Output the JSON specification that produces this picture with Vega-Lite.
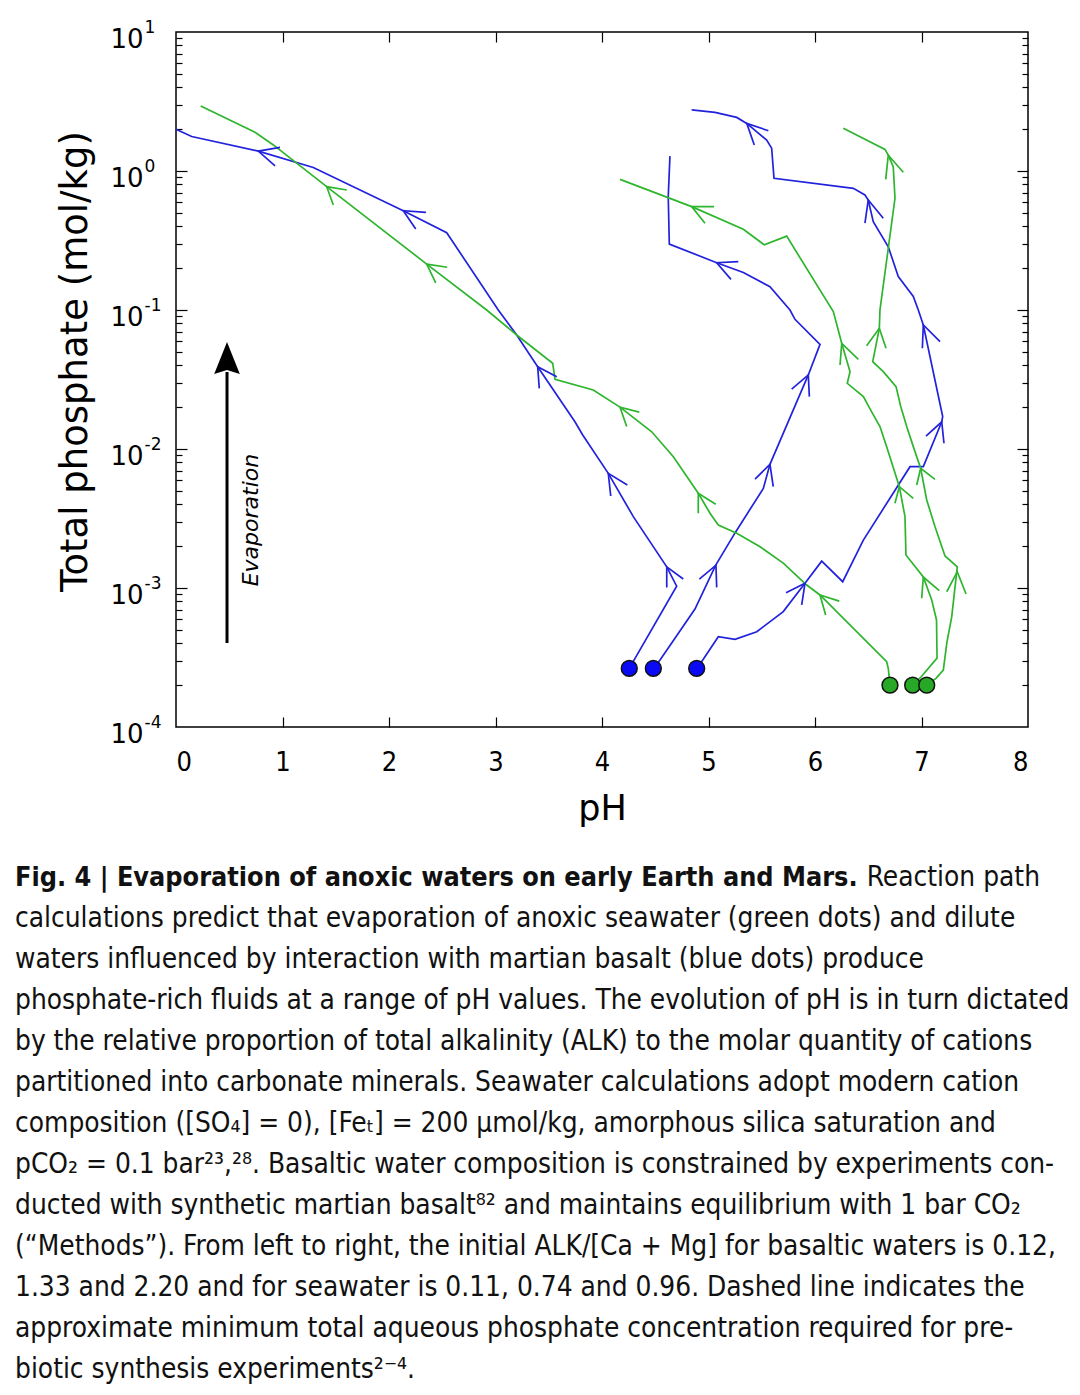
{
  "$schema": "https://vega.github.io/schema/vega-lite/v6.json",
  "width": 852,
  "height": 695,
  "autosize": {"type": "none"},
  "padding": {"left": 176, "top": 32, "right": 52, "bottom": 668},
  "background": "white",
  "config": {
    "view": {"stroke": "#000", "strokeWidth": 1.5},
    "axis": {"domain": false, "grid": false, "tickColor": "#000", "tickWidth": 1.2, "labelColor": "#000", "titleColor": "#000"}
  },
  "datasets": {
    "paths": [
      {"s":"b1","k":"basalt","o":1,"ph":4.256,"p":0.000264},
      {"s":"b1","k":"basalt","o":2,"ph":4.701,"p":0.00103},
      {"s":"b1","k":"basalt","o":3,"ph":4.608,"p":0.00142},
      {"s":"b1","k":"basalt","o":4,"ph":4.294,"p":0.00326},
      {"s":"b1","k":"basalt","o":5,"ph":4.059,"p":0.00668},
      {"s":"b1","k":"basalt","o":6,"ph":3.819,"p":0.0126},
      {"s":"b1","k":"basalt","o":7,"ph":3.746,"p":0.0157},
      {"s":"b1","k":"basalt","o":8,"ph":3.396,"p":0.0391},
      {"s":"b1","k":"basalt","o":9,"ph":3.199,"p":0.0661},
      {"s":"b1","k":"basalt","o":10,"ph":3.026,"p":0.1},
      {"s":"b1","k":"basalt","o":11,"ph":2.542,"p":0.36},
      {"s":"b1","k":"basalt","o":12,"ph":2.134,"p":0.518},
      {"s":"b1","k":"basalt","o":13,"ph":1.289,"p":1.06},
      {"s":"b1","k":"basalt","o":14,"ph":0.773,"p":1.39},
      {"s":"b1","k":"basalt","o":15,"ph":0.147,"p":1.77},
      {"s":"b1","k":"basalt","o":16,"ph":0.0,"p":2.0},

      {"s":"b2","k":"basalt","o":1,"ph":4.482,"p":0.000264},
      {"s":"b2","k":"basalt","o":2,"ph":4.545,"p":0.000303},
      {"s":"b2","k":"basalt","o":3,"ph":4.873,"p":0.000706},
      {"s":"b2","k":"basalt","o":4,"ph":5.068,"p":0.00146},
      {"s":"b2","k":"basalt","o":5,"ph":5.249,"p":0.00249},
      {"s":"b2","k":"basalt","o":6,"ph":5.515,"p":0.00521},
      {"s":"b2","k":"basalt","o":7,"ph":5.577,"p":0.00776},
      {"s":"b2","k":"basalt","o":8,"ph":5.937,"p":0.0341},
      {"s":"b2","k":"basalt","o":9,"ph":6.047,"p":0.0566},
      {"s":"b2","k":"basalt","o":10,"ph":5.812,"p":0.0857},
      {"s":"b2","k":"basalt","o":11,"ph":5.765,"p":0.1},
      {"s":"b2","k":"basalt","o":12,"ph":5.577,"p":0.147},
      {"s":"b2","k":"basalt","o":13,"ph":5.327,"p":0.186},
      {"s":"b2","k":"basalt","o":14,"ph":5.077,"p":0.219},
      {"s":"b2","k":"basalt","o":15,"ph":4.632,"p":0.298},
      {"s":"b2","k":"basalt","o":16,"ph":4.622,"p":0.653},
      {"s":"b2","k":"basalt","o":17,"ph":4.638,"p":1.28},

      {"s":"b3","k":"basalt","o":1,"ph":4.889,"p":0.000264},
      {"s":"b3","k":"basalt","o":2,"ph":4.951,"p":0.000307},
      {"s":"b3","k":"basalt","o":3,"ph":5.092,"p":0.000446},
      {"s":"b3","k":"basalt","o":4,"ph":5.249,"p":0.000427},
      {"s":"b3","k":"basalt","o":5,"ph":5.453,"p":0.000485},
      {"s":"b3","k":"basalt","o":6,"ph":5.702,"p":0.000676},
      {"s":"b3","k":"basalt","o":7,"ph":5.906,"p":0.00108},
      {"s":"b3","k":"basalt","o":8,"ph":6.063,"p":0.00156},
      {"s":"b3","k":"basalt","o":9,"ph":6.26,"p":0.00111},
      {"s":"b3","k":"basalt","o":10,"ph":6.454,"p":0.00221},
      {"s":"b3","k":"basalt","o":11,"ph":6.892,"p":0.00746},
      {"s":"b3","k":"basalt","o":12,"ph":7.017,"p":0.00746},
      {"s":"b3","k":"basalt","o":13,"ph":7.19,"p":0.0157},
      {"s":"b3","k":"basalt","o":14,"ph":7.199,"p":0.0171},
      {"s":"b3","k":"basalt","o":15,"ph":7.017,"p":0.078},
      {"s":"b3","k":"basalt","o":16,"ph":6.97,"p":0.1},
      {"s":"b3","k":"basalt","o":17,"ph":6.923,"p":0.125},
      {"s":"b3","k":"basalt","o":18,"ph":6.782,"p":0.174},
      {"s":"b3","k":"basalt","o":19,"ph":6.688,"p":0.285},
      {"s":"b3","k":"basalt","o":20,"ph":6.547,"p":0.432},
      {"s":"b3","k":"basalt","o":21,"ph":6.5,"p":0.618},
      {"s":"b3","k":"basalt","o":22,"ph":6.469,"p":0.672},
      {"s":"b3","k":"basalt","o":23,"ph":6.36,"p":0.751},
      {"s":"b3","k":"basalt","o":24,"ph":5.615,"p":0.886},
      {"s":"b3","k":"basalt","o":25,"ph":5.593,"p":1.46},
      {"s":"b3","k":"basalt","o":26,"ph":5.546,"p":1.67},
      {"s":"b3","k":"basalt","o":27,"ph":5.359,"p":2.2},
      {"s":"b3","k":"basalt","o":28,"ph":5.265,"p":2.43},
      {"s":"b3","k":"basalt","o":29,"ph":5.061,"p":2.64},
      {"s":"b3","k":"basalt","o":30,"ph":4.842,"p":2.75},

      {"s":"g1","k":"seawater","o":1,"ph":6.704,"p":0.0002},
      {"s":"g1","k":"seawater","o":2,"ph":6.688,"p":0.000264},
      {"s":"g1","k":"seawater","o":3,"ph":6.673,"p":0.000295},
      {"s":"g1","k":"seawater","o":4,"ph":6.047,"p":0.000891},
      {"s":"g1","k":"seawater","o":5,"ph":5.922,"p":0.00105},
      {"s":"g1","k":"seawater","o":6,"ph":5.702,"p":0.00151},
      {"s":"g1","k":"seawater","o":7,"ph":5.484,"p":0.00198},
      {"s":"g1","k":"seawater","o":8,"ph":5.265,"p":0.00248},
      {"s":"g1","k":"seawater","o":9,"ph":5.092,"p":0.00284},
      {"s":"g1","k":"seawater","o":10,"ph":5.014,"p":0.00345},
      {"s":"g1","k":"seawater","o":11,"ph":4.904,"p":0.0048},
      {"s":"g1","k":"seawater","o":12,"ph":4.67,"p":0.00881},
      {"s":"g1","k":"seawater","o":13,"ph":4.467,"p":0.0133},
      {"s":"g1","k":"seawater","o":14,"ph":4.169,"p":0.02},
      {"s":"g1","k":"seawater","o":15,"ph":3.918,"p":0.0266},
      {"s":"g1","k":"seawater","o":16,"ph":3.559,"p":0.0317},
      {"s":"g1","k":"seawater","o":17,"ph":3.537,"p":0.0414},
      {"s":"g1","k":"seawater","o":18,"ph":3.199,"p":0.0661},
      {"s":"g1","k":"seawater","o":19,"ph":2.917,"p":0.1},
      {"s":"g1","k":"seawater","o":20,"ph":2.354,"p":0.214},
      {"s":"g1","k":"seawater","o":21,"ph":1.415,"p":0.771},
      {"s":"g1","k":"seawater","o":22,"ph":0.914,"p":1.54},
      {"s":"g1","k":"seawater","o":23,"ph":0.742,"p":1.9},
      {"s":"g1","k":"seawater","o":24,"ph":0.232,"p":2.94},

      {"s":"g2","k":"seawater","o":1,"ph":6.917,"p":0.0002},
      {"s":"g2","k":"seawater","o":2,"ph":6.995,"p":0.000229},
      {"s":"g2","k":"seawater","o":3,"ph":7.146,"p":0.000313},
      {"s":"g2","k":"seawater","o":4,"ph":7.141,"p":0.000589},
      {"s":"g2","k":"seawater","o":5,"ph":7.096,"p":0.00082},
      {"s":"g2","k":"seawater","o":6,"ph":7.017,"p":0.0012},
      {"s":"g2","k":"seawater","o":7,"ph":6.854,"p":0.00173},
      {"s":"g2","k":"seawater","o":8,"ph":6.845,"p":0.00326},
      {"s":"g2","k":"seawater","o":9,"ph":6.792,"p":0.00536},
      {"s":"g2","k":"seawater","o":10,"ph":6.673,"p":0.0104},
      {"s":"g2","k":"seawater","o":11,"ph":6.61,"p":0.0145},
      {"s":"g2","k":"seawater","o":12,"ph":6.532,"p":0.0185},
      {"s":"g2","k":"seawater","o":13,"ph":6.454,"p":0.0238},
      {"s":"g2","k":"seawater","o":14,"ph":6.303,"p":0.0297},
      {"s":"g2","k":"seawater","o":15,"ph":6.329,"p":0.036},
      {"s":"g2","k":"seawater","o":16,"ph":6.251,"p":0.0576},
      {"s":"g2","k":"seawater","o":17,"ph":6.172,"p":0.0973},
      {"s":"g2","k":"seawater","o":18,"ph":5.734,"p":0.34},
      {"s":"g2","k":"seawater","o":19,"ph":5.524,"p":0.294},
      {"s":"g2","k":"seawater","o":20,"ph":5.327,"p":0.381},
      {"s":"g2","k":"seawater","o":21,"ph":4.842,"p":0.554},
      {"s":"g2","k":"seawater","o":22,"ph":4.169,"p":0.871},

      {"s":"g3","k":"seawater","o":1,"ph":7.049,"p":0.0002},
      {"s":"g3","k":"seawater","o":2,"ph":7.136,"p":0.000224},
      {"s":"g3","k":"seawater","o":3,"ph":7.205,"p":0.000257},
      {"s":"g3","k":"seawater","o":4,"ph":7.237,"p":0.0004},
      {"s":"g3","k":"seawater","o":5,"ph":7.284,"p":0.000622},
      {"s":"g3","k":"seawater","o":6,"ph":7.336,"p":0.00142},
      {"s":"g3","k":"seawater","o":7,"ph":7.221,"p":0.0017},
      {"s":"g3","k":"seawater","o":8,"ph":7.127,"p":0.00276},
      {"s":"g3","k":"seawater","o":9,"ph":7.049,"p":0.0043},
      {"s":"g3","k":"seawater","o":10,"ph":6.992,"p":0.00726},
      {"s":"g3","k":"seawater","o":11,"ph":6.923,"p":0.0104},
      {"s":"g3","k":"seawater","o":12,"ph":6.861,"p":0.0145},
      {"s":"g3","k":"seawater","o":13,"ph":6.805,"p":0.0202},
      {"s":"g3","k":"seawater","o":14,"ph":6.761,"p":0.0281},
      {"s":"g3","k":"seawater","o":15,"ph":6.641,"p":0.036},
      {"s":"g3","k":"seawater","o":16,"ph":6.542,"p":0.0425},
      {"s":"g3","k":"seawater","o":17,"ph":6.604,"p":0.0738},
      {"s":"g3","k":"seawater","o":18,"ph":6.61,"p":0.1},
      {"s":"g3","k":"seawater","o":19,"ph":6.751,"p":0.636},
      {"s":"g3","k":"seawater","o":20,"ph":6.735,"p":1.07},
      {"s":"g3","k":"seawater","o":21,"ph":6.688,"p":1.3},
      {"s":"g3","k":"seawater","o":22,"ph":6.657,"p":1.43},
      {"s":"g3","k":"seawater","o":23,"ph":6.266,"p":2.03}
    ],
    "arrows": [
      {"a":"A1","k":"basalt","o":1,"ph":0.977,"p":1.48},{"a":"A1","k":"basalt","o":2,"ph":0.773,"p":1.39},{"a":"A1","k":"basalt","o":3,"ph":0.93,"p":1.09},
      {"a":"A2","k":"basalt","o":1,"ph":2.347,"p":0.504},{"a":"A2","k":"basalt","o":2,"ph":2.134,"p":0.518},{"a":"A2","k":"basalt","o":3,"ph":2.251,"p":0.383},
      {"a":"A3","k":"basalt","o":1,"ph":3.575,"p":0.0331},{"a":"A3","k":"basalt","o":2,"ph":3.396,"p":0.0391},{"a":"A3","k":"basalt","o":3,"ph":3.411,"p":0.0273},
      {"a":"A4","k":"basalt","o":1,"ph":4.238,"p":0.00551},{"a":"A4","k":"basalt","o":2,"ph":4.059,"p":0.00668},{"a":"A4","k":"basalt","o":3,"ph":4.082,"p":0.00459},
      {"a":"A5","k":"basalt","o":1,"ph":4.763,"p":0.00116},{"a":"A5","k":"basalt","o":2,"ph":4.608,"p":0.00142},{"a":"A5","k":"basalt","o":3,"ph":4.608,"p":0.00101},
      {"a":"B1","k":"basalt","o":1,"ph":4.914,"p":0.00116},{"a":"B1","k":"basalt","o":2,"ph":5.07,"p":0.00146},{"a":"B1","k":"basalt","o":3,"ph":5.077,"p":0.00101},
      {"a":"B2","k":"basalt","o":1,"ph":5.437,"p":0.00608},{"a":"B2","k":"basalt","o":2,"ph":5.577,"p":0.00776},{"a":"B2","k":"basalt","o":3,"ph":5.608,"p":0.00536},
      {"a":"B3","k":"basalt","o":1,"ph":5.781,"p":0.027},{"a":"B3","k":"basalt","o":2,"ph":5.937,"p":0.0341},{"a":"B3","k":"basalt","o":3,"ph":5.947,"p":0.0238},
      {"a":"B4","k":"basalt","o":1,"ph":5.28,"p":0.223},{"a":"B4","k":"basalt","o":2,"ph":5.077,"p":0.219},{"a":"B4","k":"basalt","o":3,"ph":5.211,"p":0.166},
      {"a":"C1","k":"basalt","o":1,"ph":5.728,"p":0.000925},{"a":"C1","k":"basalt","o":2,"ph":5.906,"p":0.00108},{"a":"C1","k":"basalt","o":3,"ph":5.875,"p":0.000755},
      {"a":"C2","k":"basalt","o":1,"ph":7.042,"p":0.0124},{"a":"C2","k":"basalt","o":2,"ph":7.19,"p":0.0157},{"a":"C2","k":"basalt","o":3,"ph":7.211,"p":0.011},
      {"a":"C3","k":"basalt","o":1,"ph":7.008,"p":0.053},{"a":"C3","k":"basalt","o":2,"ph":7.017,"p":0.078},{"a":"C3","k":"basalt","o":3,"ph":7.174,"p":0.0592},
      {"a":"C4","k":"basalt","o":1,"ph":6.469,"p":0.421},{"a":"C4","k":"basalt","o":2,"ph":6.5,"p":0.618},{"a":"C4","k":"basalt","o":3,"ph":6.641,"p":0.457},
      {"a":"C5","k":"basalt","o":1,"ph":5.562,"p":1.95},{"a":"C5","k":"basalt","o":2,"ph":5.359,"p":2.2},{"a":"C5","k":"basalt","o":3,"ph":5.43,"p":1.54},
      {"a":"D1","k":"seawater","o":1,"ph":6.228,"p":0.000805},{"a":"D1","k":"seawater","o":2,"ph":6.047,"p":0.000891},{"a":"D1","k":"seawater","o":3,"ph":6.1,"p":0.00064},
      {"a":"D2","k":"seawater","o":1,"ph":5.068,"p":0.004},{"a":"D2","k":"seawater","o":2,"ph":4.904,"p":0.0048},{"a":"D2","k":"seawater","o":3,"ph":4.904,"p":0.00345},
      {"a":"D3","k":"seawater","o":1,"ph":4.35,"p":0.0184},{"a":"D3","k":"seawater","o":2,"ph":4.169,"p":0.02},{"a":"D3","k":"seawater","o":3,"ph":4.232,"p":0.0145},
      {"a":"D4","k":"seawater","o":1,"ph":2.547,"p":0.203},{"a":"D4","k":"seawater","o":2,"ph":2.354,"p":0.214},{"a":"D4","k":"seawater","o":3,"ph":2.439,"p":0.157},
      {"a":"D5","k":"seawater","o":1,"ph":1.603,"p":0.73},{"a":"D5","k":"seawater","o":2,"ph":1.415,"p":0.771},{"a":"D5","k":"seawater","o":3,"ph":1.477,"p":0.569},
      {"a":"E1","k":"seawater","o":1,"ph":7.002,"p":0.000843},{"a":"E1","k":"seawater","o":2,"ph":7.017,"p":0.0012},{"a":"E1","k":"seawater","o":3,"ph":7.167,"p":0.000957},
      {"a":"E2","k":"seawater","o":1,"ph":6.751,"p":0.00407},{"a":"E2","k":"seawater","o":2,"ph":6.792,"p":0.00536},{"a":"E2","k":"seawater","o":3,"ph":6.923,"p":0.00442},
      {"a":"E3","k":"seawater","o":1,"ph":6.235,"p":0.0402},{"a":"E3","k":"seawater","o":2,"ph":6.251,"p":0.0576},{"a":"E3","k":"seawater","o":3,"ph":6.407,"p":0.0442},
      {"a":"E4","k":"seawater","o":1,"ph":5.052,"p":0.554},{"a":"E4","k":"seawater","o":2,"ph":4.842,"p":0.554},{"a":"E4","k":"seawater","o":3,"ph":4.967,"p":0.421},
      {"a":"F1","k":"seawater","o":1,"ph":7.237,"p":0.00094},{"a":"F1","k":"seawater","o":2,"ph":7.336,"p":0.00131},{"a":"F1","k":"seawater","o":3,"ph":7.418,"p":0.000906},
      {"a":"F2","k":"seawater","o":1,"ph":6.955,"p":0.00551},{"a":"F2","k":"seawater","o":2,"ph":6.992,"p":0.00726},{"a":"F2","k":"seawater","o":3,"ph":7.127,"p":0.00605},
      {"a":"F3","k":"seawater","o":1,"ph":6.485,"p":0.0554},{"a":"F3","k":"seawater","o":2,"ph":6.604,"p":0.0738},{"a":"F3","k":"seawater","o":3,"ph":6.667,"p":0.053},
      {"a":"F4","k":"seawater","o":1,"ph":6.664,"p":0.871},{"a":"F4","k":"seawater","o":2,"ph":6.688,"p":1.3},{"a":"F4","k":"seawater","o":3,"ph":6.829,"p":0.979}
    ],
    "dots": [
      {"k":"basalt","ph":4.256,"p":0.000264},
      {"k":"basalt","ph":4.482,"p":0.000264},
      {"k":"basalt","ph":4.889,"p":0.000264},
      {"k":"seawater","ph":6.704,"p":0.0002},
      {"k":"seawater","ph":6.917,"p":0.0002},
      {"k":"seawater","ph":7.049,"p":0.0002}
    ],
    "evap": [
      {"ph":0.479,"p1":0.000402,"p2":0.0358,"ptip":0.0451,"ptext":0.00308,"phtext":0.704,"t":"Evaporation"}
    ],
    "caption": [
      {"line":1,"seg":"b","t":"Fig. 4 | Evaporation of anoxic waters on early Earth and Mars."},
      {"line":1,"seg":"r","t":"Reaction path"},
      {"line":2,"seg":"n","t":"calculations predict that evaporation of anoxic seawater (green dots) and dilute"},
      {"line":3,"seg":"n","t":"waters influenced by interaction with martian basalt (blue dots) produce"},
      {"line":4,"seg":"n","t":"phosphate-rich fluids at a range of pH values. The evolution of pH is in turn dictated"},
      {"line":5,"seg":"n","t":"by the relative proportion of total alkalinity (ALK) to the molar quantity of cations"},
      {"line":6,"seg":"n","t":"partitioned into carbonate minerals. Seawater calculations adopt modern cation"},
      {"line":7,"seg":"n","t":"composition ([SO₄] = 0), [Feₜ] = 200 µmol/kg, amorphous silica saturation and"},
      {"line":8,"seg":"n","t":"pCO₂ = 0.1 bar²³,²⁸. Basaltic water composition is constrained by experiments con-"},
      {"line":9,"seg":"n","t":"ducted with synthetic martian basalt⁸² and maintains equilibrium with 1 bar CO₂"},
      {"line":10,"seg":"n","t":"(“Methods”). From left to right, the initial ALK/[Ca + Mg] for basaltic waters is 0.12,"},
      {"line":11,"seg":"n","t":"1.33 and 2.20 and for seawater is 0.11, 0.74 and 0.96. Dashed line indicates the"},
      {"line":12,"seg":"n","t":"approximate minimum total aqueous phosphate concentration required for pre-"},
      {"line":13,"seg":"n","t":"biotic synthesis experiments²⁻⁴."}
    ]
  },
  "resolve": {"scale": {"x": "independent", "y": "independent"}},
  "layer": [
    {
      "resolve": {"axis": {"x": "independent", "y": "independent"}},
      "layer": [
        {
          "mark": {"type": "rule", "strokeDash": [15, 11], "strokeWidth": 2, "color": "#1a1a1a"},
          "encoding": {
            "y": {"datum": 0.1, "type": "quantitative", "scale": {"type": "log", "domain": [0.0001, 10], "nice": false}, "axis": null}
          }
        },
        {
          "data": {"name": "paths"},
          "mark": {"type": "line", "strokeWidth": 1.7, "interpolate": "linear"},
          "encoding": {
            "x": {"field": "ph", "type": "quantitative", "scale": {"domain": [0, 8], "nice": false, "zero": false},
                  "axis": {"orient": "bottom", "ticks": false, "values": [0,1,2,3,4,5,6,7,8], "labelFont": "DejaVu Sans Condensed, Liberation Sans", "labelFontSize": 27, "labelPadding": 22,
                           "title": "pH", "titleFont": "DejaVu Sans", "titleFontSize": 35, "titleFontWeight": "normal", "titleY": 81, "titleBaseline": "middle"}},
            "y": {"field": "p", "type": "quantitative", "scale": {"type": "log", "domain": [0.0001, 10], "nice": false},
                  "axis": {"orient": "left", "ticks": false, "values": [0.0001, 0.001, 0.01, 0.1, 1, 10],
                           "labelExpr": "'10'",
                           "labelFont": "DejaVu Sans", "labelFontSize": 26, "labelPadding": 33, "labelOffset": 7,
                           "title": "Total phosphate (mol/kg)", "titleFont": "DejaVu Sans", "titleFontSize": 37, "titleFontWeight": "normal",
                           "titleX": -101, "titleY": 329, "titleBaseline": "middle", "titleAngle": 270}},
            "detail": {"field": "s"},
            "order": {"field": "o", "type": "quantitative"},
            "stroke": {"field": "k", "type": "nominal", "scale": {"domain": ["basalt", "seawater"], "range": ["#2222dd", "#2eb52e"]}, "legend": null}
          }
        },
        {
          "data": {"name": "arrows"},
          "mark": {"type": "line", "strokeWidth": 1.7},
          "encoding": {
            "x": {"field": "ph", "type": "quantitative", "scale": {"domain": [0, 8], "nice": false, "zero": false},
                  "axis": {"orient": "bottom", "labels": false, "title": null, "values": [1,2,3,4,5,6,7], "tickSize": -10}},
            "y": {"field": "p", "type": "quantitative", "scale": {"type": "log", "domain": [0.0001, 10], "nice": false},
                  "axis": {"orient": "left", "labels": false, "title": null, "values": [0.001, 0.01, 0.1, 1], "tickSize": -11}},
            "detail": {"field": "a"},
            "order": {"field": "o", "type": "quantitative"},
            "stroke": {"field": "k", "type": "nominal", "scale": {"domain": ["basalt", "seawater"], "range": ["#2222dd", "#2eb52e"]}, "legend": null}
          }
        },
        {
          "data": {"name": "dots"},
          "mark": {"type": "point", "filled": true, "size": 250, "stroke": "#111", "strokeWidth": 1.5, "opacity": 1},
          "encoding": {
            "x": {"field": "ph", "type": "quantitative", "scale": {"domain": [0, 8], "nice": false, "zero": false},
                  "axis": {"orient": "top", "labels": false, "title": null, "values": [1,2,3,4,5,6,7], "tickSize": -10}},
            "y": {"field": "p", "type": "quantitative", "scale": {"type": "log", "domain": [0.0001, 10], "nice": false},
                  "axis": {"orient": "left", "labels": false, "title": null, "tickSize": -6,
                           "values": [0.0002,0.0003,0.0004,0.0005,0.0006,0.0007,0.0008,0.0009,0.002,0.003,0.004,0.005,0.006,0.007,0.008,0.009,0.02,0.03,0.04,0.05,0.06,0.07,0.08,0.09,0.2,0.3,0.4,0.5,0.6,0.7,0.8,0.9,2,3,4,5,6,7,8,9]}},
            "fill": {"field": "k", "type": "nominal", "scale": {"domain": ["basalt", "seawater"], "range": ["#0a0af5", "#27a827"]}, "legend": null}
          }
        },
        {
          "data": {"name": "evap"},
          "mark": {"type": "rule", "strokeWidth": 3, "color": "#000"},
          "encoding": {
            "x": {"field": "ph", "type": "quantitative", "scale": {"domain": [0, 8], "nice": false, "zero": false}, "axis": null},
            "y": {"field": "p1", "type": "quantitative", "scale": {"type": "log", "domain": [0.0001, 10], "nice": false},
                  "axis": {"orient": "right", "labels": false, "title": null, "values": [0.001, 0.01, 0.1, 1], "tickSize": -11}},
            "y2": {"field": "p2"}
          }
        },
        {
          "data": {"name": "evap"},
          "mark": {"type": "point", "shape": "M0,-1L0.8,1L0,0.75L-0.8,1Z", "filled": true, "size": 1024, "color": "#000", "opacity": 1},
          "encoding": {
            "x": {"field": "ph", "type": "quantitative", "scale": {"domain": [0, 8], "nice": false, "zero": false}, "axis": null},
            "y": {"field": "ptip", "type": "quantitative", "scale": {"type": "log", "domain": [0.0001, 10], "nice": false},
                  "axis": {"orient": "right", "labels": false, "title": null, "tickSize": -6,
                           "values": [0.0002,0.0003,0.0004,0.0005,0.0006,0.0007,0.0008,0.0009,0.002,0.003,0.004,0.005,0.006,0.007,0.008,0.009,0.02,0.03,0.04,0.05,0.06,0.07,0.08,0.09,0.2,0.3,0.4,0.5,0.6,0.7,0.8,0.9,2,3,4,5,6,7,8,9]}}
          }
        },
        {
          "data": {"name": "evap"},
          "mark": {"type": "text", "angle": 270, "font": "DejaVu Sans", "fontStyle": "italic", "fontSize": 22, "align": "center", "baseline": "middle", "color": "#000"},
          "encoding": {
            "x": {"field": "phtext", "type": "quantitative", "scale": {"domain": [0, 8], "nice": false, "zero": false}, "axis": null},
            "y": {"field": "ptext", "type": "quantitative", "scale": {"type": "log", "domain": [0.0001, 10], "nice": false},
                  "axis": {"orient": "left", "ticks": false, "title": null, "values": [0.0001, 0.001, 0.01, 0.1, 1, 10],
                           "labelExpr": "datum.value > 5 ? '1' : datum.value > 0.5 ? '0' : datum.value > 0.05 ? '-1' : datum.value > 0.005 ? '-2' : datum.value > 0.0005 ? '-3' : '-4'",
                           "labelFont": "DejaVu Sans", "labelFontSize": 17, "labelAlign": "left", "labelPadding": 32, "labelOffset": -5}},
            "text": {"field": "t"}
          }
        }
      ]
    },
    {
      "data": {"name": "caption"},
      "layer": [
        {
          "transform": [{"filter": "datum.seg == 'b'"}],
          "mark": {"type": "text", "align": "left", "baseline": "middle", "font": "DejaVu Sans Condensed, Liberation Sans", "fontWeight": "bold", "fontSize": 26.8, "color": "#111"},
          "encoding": {
            "x": {"datum": 0, "type": "quantitative", "scale": {"domain": [0, 1], "range": [-161, 864]}, "axis": null},
            "y": {"field": "line", "type": "quantitative", "scale": {"domain": [1, 13], "range": [846, 1338]}, "axis": null},
            "text": {"field": "t"}
          }
        },
        {
          "transform": [{"filter": "datum.seg == 'r'"}],
          "mark": {"type": "text", "align": "right", "baseline": "middle", "font": "DejaVu Sans Condensed, Liberation Sans", "fontSize": 27.8, "color": "#111"},
          "encoding": {
            "x": {"datum": 1, "type": "quantitative", "scale": {"domain": [0, 1], "range": [-161, 864]}, "axis": null},
            "y": {"field": "line", "type": "quantitative", "scale": {"domain": [1, 13], "range": [846, 1338]}, "axis": null},
            "text": {"field": "t"}
          }
        },
        {
          "transform": [{"filter": "datum.seg == 'n'"}],
          "mark": {"type": "text", "align": "left", "baseline": "middle", "font": "DejaVu Sans Condensed, Liberation Sans", "fontSize": 27.8, "color": "#111"},
          "encoding": {
            "x": {"datum": 0, "type": "quantitative", "scale": {"domain": [0, 1], "range": [-161, 864]}, "axis": null},
            "y": {"field": "line", "type": "quantitative", "scale": {"domain": [1, 13], "range": [846, 1338]}, "axis": null},
            "text": {"field": "t"}
          }
        }
      ]
    }
  ]
}
